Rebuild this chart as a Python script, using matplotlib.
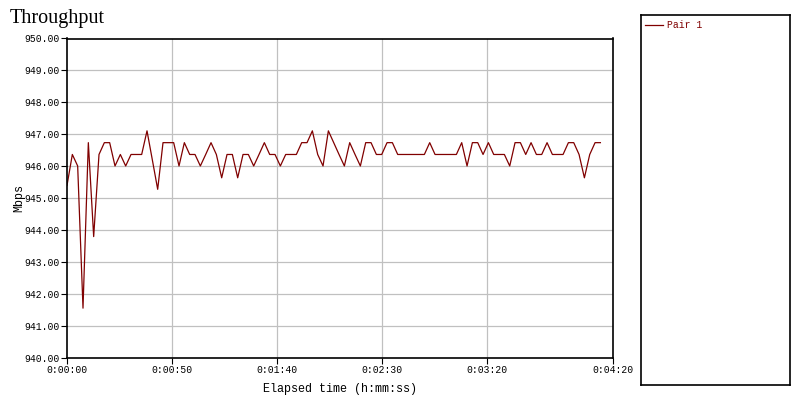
import numpy as np
import matplotlib
matplotlib.use('Agg')
import matplotlib.pyplot as plt

# Throughput samples (Mbps), one every ~2.54 s
mbps = [
    945.40, 946.37, 946.01, 941.56, 946.74, 943.80, 946.37, 946.74, 946.74, 946.01,
    946.37, 946.01, 946.37, 946.37, 946.37, 947.11, 946.20, 945.28, 946.74, 946.74,
    946.74, 946.01,
    946.74, 946.37, 946.37, 946.01, 946.37, 946.74, 946.37, 945.64, 946.37, 946.37,
    945.64, 946.37, 946.37, 946.01, 946.37, 946.74, 946.37, 946.37, 946.01, 946.37,
    946.37, 946.37, 946.74, 946.74, 947.11, 946.37, 946.01, 947.11,
    946.74, 946.37, 946.01, 946.74, 946.37, 946.01, 946.74, 946.74, 946.37, 946.37,
    946.74, 946.74, 946.37, 946.37, 946.37, 946.37, 946.37, 946.37, 946.74, 946.37,
    946.37, 946.37, 946.37, 946.37, 946.74, 946.01, 946.74, 946.74,
    946.37, 946.74, 946.37, 946.37, 946.37, 946.01, 946.74, 946.74, 946.37, 946.74,
    946.37, 946.37, 946.74, 946.37, 946.37, 946.37, 946.74, 946.74, 946.37, 945.64,
    946.37, 946.74, 946.74,
]
sample_interval = 2.54
elapsed = np.arange(len(mbps)) * sample_interval

x_ticks = [0, 50, 100, 150, 200, 260]
x_tick_labels = ['0:00:00', '0:00:50', '0:01:40', '0:02:30', '0:03:20', '0:04:20']
y_ticks = list(range(940, 951))
series_name = 'Pair 1'

line_color = '#800000'
mono = 'Liberation Mono'

fig = plt.figure(figsize=(8, 4), dpi=100)
ax = fig.add_axes([67 / 800, 1 - 358 / 400, 546 / 800, 319.5 / 400])

ax.plot(elapsed, mbps, color=line_color, lw=0.9, label=series_name)

ax.set_xlim(0, 260)
ax.set_ylim(940, 950)
ax.set_xticks(x_ticks)
ax.set_xticklabels(x_tick_labels, fontfamily=mono, fontsize=7)
ax.set_yticks(y_ticks)
ax.set_yticklabels(['%.2f' % v for v in y_ticks], fontfamily=mono, fontsize=7)
ax.tick_params(direction='out', length=4, width=0.8, pad=1)

# grid: every y tick, vertical only at the inner x ticks
for v in y_ticks[1:-1]:
    ax.axhline(v, color='#c0c0c0', lw=0.9, zorder=0)
for v in x_ticks[1:-1]:
    ax.axvline(v, color='#c0c0c0', lw=0.9, zorder=0)

for s in ax.spines.values():
    s.set_linewidth(1.2)
    s.set_color('black')

ax.set_xlabel('Elapsed time (h:mm:ss)', fontfamily=mono, fontsize=8.5, labelpad=6)
ax.set_ylabel('Mbps', fontfamily=mono, fontsize=8.5, labelpad=0)

fig.text(10 / 800, 1 - 19 / 400, 'Throughput', fontfamily='Liberation Serif',
         fontsize=14.5, va='center', ha='left')

# legend panel on the right
lax = fig.add_axes([641 / 800, 1 - 385 / 400, 149 / 800, 370 / 400])
lax.set_xticks([])
lax.set_yticks([])
for s in lax.spines.values():
    s.set_linewidth(1.2)
    s.set_color('black')
handles, labels = ax.get_legend_handles_labels()
lax.legend(handles, labels, loc='upper left', bbox_to_anchor=(-0.03, 1.01),
           frameon=False, prop={'family': mono, 'size': 7}, labelcolor='linecolor',
           handlelength=1.8, handletextpad=0.4)

plt.savefig('out.png', dpi=100)
plt.close(fig)
